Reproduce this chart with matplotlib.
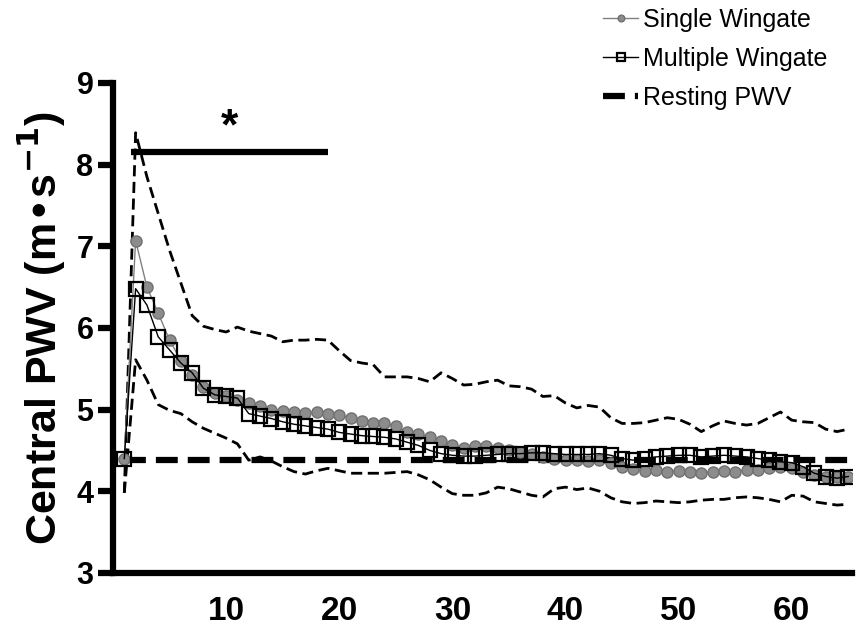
import numpy as np
import matplotlib
matplotlib.use("Agg")
import matplotlib.pyplot as plt

plt.rcParams["font.family"] = ["Liberation Sans", "DejaVu Sans"]

# Time (min)
minutes = list(range(1, 66))

# Mean central PWV after a single Wingate
single = [4.40, 7.07, 6.50, 6.18, 5.85, 5.60, 5.42, 5.28, 5.20, 5.17,
          5.12, 5.08, 5.04, 5.00, 4.98, 4.97, 4.96, 4.97, 4.95, 4.93,
          4.90, 4.86, 4.84, 4.83, 4.80, 4.72, 4.70, 4.66, 4.62, 4.56,
          4.53, 4.55, 4.55, 4.53, 4.50, 4.48, 4.45, 4.42, 4.40, 4.38,
          4.38, 4.37, 4.38, 4.35, 4.30, 4.27, 4.25, 4.26, 4.24, 4.25,
          4.24, 4.22, 4.24, 4.25, 4.24, 4.26, 4.26, 4.28, 4.30, 4.28,
          4.24, 4.20, 4.18, 4.17, 4.17]

# Mean central PWV after multiple Wingates
multiple = [4.40, 6.48, 6.28, 5.89, 5.73, 5.57, 5.45, 5.26, 5.18, 5.16,
            5.14, 4.95, 4.92, 4.89, 4.85, 4.82, 4.80, 4.78, 4.76, 4.72,
            4.70, 4.68, 4.67, 4.66, 4.64, 4.60, 4.56, 4.50, 4.46, 4.44,
            4.43, 4.43, 4.44, 4.45, 4.46, 4.46, 4.47, 4.47, 4.46, 4.45,
            4.45, 4.45, 4.46, 4.44, 4.40, 4.38, 4.40, 4.42, 4.43, 4.44,
            4.44, 4.42, 4.43, 4.44, 4.43, 4.42, 4.40, 4.38, 4.36, 4.35,
            4.30, 4.22, 4.18, 4.16, 4.18]

# Dashed upper / lower bounds
upper = [3.98, 8.39, 7.85, 7.40, 6.95, 6.55, 6.15, 6.02, 5.98, 5.95,
         6.01, 5.96, 5.93, 5.90, 5.83, 5.85, 5.85, 5.86, 5.85, 5.72,
         5.60, 5.57, 5.55, 5.40, 5.40, 5.40, 5.38, 5.34, 5.45, 5.38,
         5.30, 5.31, 5.34, 5.36, 5.29, 5.28, 5.25, 5.16, 5.17, 5.08,
         5.02, 5.05, 5.03, 4.90, 4.83, 4.83, 4.84, 4.87, 4.90, 4.88,
         4.82, 4.73, 4.80, 4.86, 4.83, 4.81, 4.83, 4.90, 4.97, 4.87,
         4.85, 4.84, 4.76, 4.73, 4.76]

lower = [3.98, 5.61, 5.36, 5.06, 4.99, 4.95, 4.85, 4.77, 4.71, 4.65,
         4.58, 4.38, 4.42, 4.37, 4.30, 4.24, 4.21, 4.25, 4.28, 4.25,
         4.22, 4.22, 4.22, 4.22, 4.23, 4.24, 4.20, 4.14, 4.05, 3.97,
         3.95, 3.95, 3.98, 4.05, 4.03, 3.99, 3.95, 3.93, 4.03, 4.05,
         4.02, 4.04, 4.00, 3.92, 3.87, 3.85, 3.86, 3.88, 3.87, 3.86,
         3.87, 3.89, 3.90, 3.90, 3.92, 3.93, 3.92, 3.90, 3.87, 3.95,
         3.94, 3.87, 3.85, 3.83, 3.84]

resting_pwv = 4.38
sig_start, sig_end, sig_level = 1.6, 19.0, 8.15

fig = plt.figure(figsize=(8.56, 6.33), dpi=100)
ax = fig.add_axes([0.132, 0.095, 0.863, 0.774])

ax.plot(minutes, upper, color="black", linestyle=(0, (4, 2)), linewidth=2, zorder=2)
ax.plot(minutes, lower, color="black", linestyle=(0, (4, 2)), linewidth=2, zorder=2)

ax.plot([minutes[0], minutes[-1]], [resting_pwv, resting_pwv], color="black",
        linestyle=(0, (3.5, 1.6)), linewidth=4.5, zorder=2, label="Resting PWV")

ax.plot(minutes, single, color="#808080", linewidth=1, marker="o",
        markersize=8, markerfacecolor="#8c8c8c", markeredgecolor="#707070",
        zorder=3, label="Single Wingate")
ax.plot(minutes, multiple, color="black", linewidth=1, marker="s",
        markersize=10, markerfacecolor="none", markeredgecolor="black",
        markeredgewidth=1.6, zorder=4, label="Multiple Wingate")

# significance bar
ax.plot([sig_start, sig_end], [sig_level, sig_level], color="black",
        linewidth=4.5, solid_capstyle="butt", zorder=5)
ax.text((sig_start + sig_end) / 2, 8.45, "*", fontsize=32, fontweight="bold",
        ha="center", va="center")

ax.set_xlim(0, 65.3)
ax.set_ylim(3, 9)
ax.set_xticks([10, 20, 30, 40, 50, 60])
ax.set_yticks([3, 4, 5, 6, 7, 8, 9])

for s in ["top", "right"]:
    ax.spines[s].set_visible(False)
for s in ["left", "bottom"]:
    ax.spines[s].set_linewidth(4.5)
    ax.spines[s].set_capstyle("projecting")

ax.tick_params(axis="y", length=11, width=4.5, pad=3, labelsize=22)
ax.tick_params(axis="x", length=0, pad=17, labelsize=24)
for lab in ax.get_xticklabels() + ax.get_yticklabels():
    lab.set_fontweight("bold")

ax.set_ylabel("Central PWV (m\u2022s$^{\\mathbf{-1}}$)", fontsize=31,
              fontweight="bold", labelpad=6)

handles, labels = ax.get_legend_handles_labels()
order = [labels.index("Single Wingate"), labels.index("Multiple Wingate"),
         labels.index("Resting PWV")]
leg = fig.legend([handles[i] for i in order], [labels[i] for i in order],
                 loc="upper left", bbox_to_anchor=(0.693, 1.003), frameon=False,
                 fontsize=18, handlelength=1.4, handletextpad=0.2,
                 labelspacing=0.6, borderaxespad=0, markerscale=0.6)

fig.savefig("out.png", dpi=100)
